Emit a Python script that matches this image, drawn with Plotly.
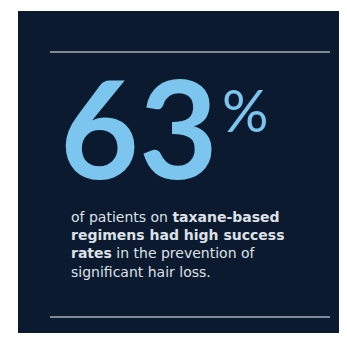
import plotly.graph_objects as go

# tamaño de la figura dentro de la pagina (body con margen de 8px)
OFF = 8
W, H = 347 - 2 * OFF, 343 - 2 * OFF

# contenido
valor = 63
unidad = "%"
lineas = [
    "of patients on <b>taxane-based</b>",
    "<b>regimens had high success</b>",
    "<b>rates</b> in the prevention of",
    "significant hair loss.",
]

fondo = "#0b1a2e"
azul = "#7cc5ef"
gris = "#dde1e7"
linea = "#7d8898"

def px(x):
    return (x - OFF) / W

def py(y):
    return 1 - (y - OFF) / H

fig = go.Figure()

# panel oscuro
fig.add_shape(type="rect", xref="paper", yref="paper",
              x0=px(18), x1=px(360), y0=py(333), y1=py(11),
              fillcolor=fondo, line_width=0, layer="below")
# separadores
for yy in (52, 317):
    fig.add_shape(type="line", xref="paper", yref="paper",
                  x0=px(50), x1=px(330), y0=py(yy), y1=py(yy),
                  line=dict(color=linea, width=2))

fig.add_annotation(x=px(58), y=py(126), xref="paper", yref="paper",
                   text=str(valor), showarrow=False, xanchor="left", yanchor="middle",
                   font=dict(family="Lato", size=136, color=azul, weight=700))
fig.add_annotation(x=px(220), y=py(109), xref="paper", yref="paper",
                   text=unidad, showarrow=False, xanchor="left", yanchor="middle",
                   font=dict(family="Lato", size=58, color=azul, weight=400))

fig.add_annotation(x=px(69), y=py(244), xref="paper", yref="paper",
                   text="<br>".join(lineas), showarrow=False, xanchor="left", yanchor="middle",
                   align="left",
                   font=dict(family="DejaVu Sans", size=14, color=gris))

fig.update_xaxes(visible=False)
fig.update_yaxes(visible=False)
fig.update_layout(width=W, height=H, margin=dict(l=0, r=0, t=0, b=0),
                  paper_bgcolor="white", plot_bgcolor="white", showlegend=False)

fig.write_html("out.html")
